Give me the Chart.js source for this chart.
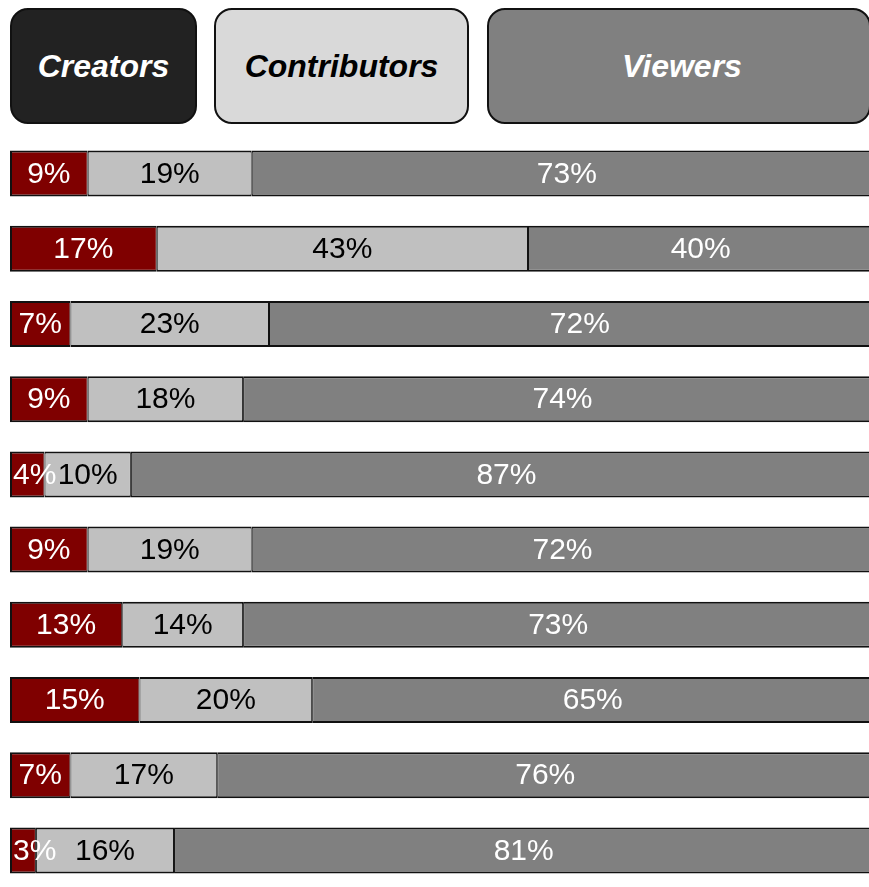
<!DOCTYPE html>
<html>
<head>
<meta charset="utf-8">
<script src="https://cdn.jsdelivr.net/npm/chart.js@4/dist/chart.umd.min.js"></script>
<style>
  html, body {
    margin: 0;
    padding: 0;
    background: #fff;
  }
  body {
    position: relative;
    width: 869px;
    height: 887px;
    overflow: hidden;
    font-family: "Liberation Sans", Arial, sans-serif;
  }
  .key {
    position: absolute;
    top: 8px;
    height: 116px;
    box-sizing: border-box;
    border: 2px solid #111;
    border-radius: 18px;
    display: flex;
    align-items: center;
    justify-content: center;
    font-size: 32px;
    font-weight: bold;
    font-style: italic;
  }
  #keyCreators { left: 10px; width: 187px; background: #222; color: #fff; }
  #keyContributors { left: 214px; width: 255px; background: #d9d9d9; color: #000; }
  #keyViewers { left: 487px; width: 384px; padding-left: 6px; background: #808080; color: #fff; }
  .chart-wrap {
    position: absolute;
    left: 0;
    top: 136px;
    width: 869px;
    height: 752px;
  }
</style>
</head>
<body>
  <div class="key" id="keyCreators">Creators</div>
  <div class="key" id="keyContributors">Contributors</div>
  <div class="key" id="keyViewers">Viewers</div>
  <div class="chart-wrap"><canvas id="shareChart"></canvas></div>

<script>
const rows = ["1", "2", "3", "4", "5", "6", "7", "8", "9", "10"];
const creators = [9, 17, 7, 9, 4, 9, 13, 15, 7, 3];
const contributors = [19, 43, 23, 18, 10, 19, 14, 20, 17, 16];
const viewers = [73, 40, 72, 74, 87, 72, 73, 65, 76, 81];

// percentage text centred on each segment, kept inside the bar's left edge
const segmentLabels = {
  id: "segmentLabels",
  afterDatasetsDraw(chart) {
    const ctx = chart.ctx;
    const left = chart.chartArea.left;
    ctx.save();
    ctx.font = "30px 'Liberation Sans', Arial, sans-serif";
    ctx.textAlign = "center";
    ctx.textBaseline = "middle";
    chart.data.datasets.forEach((ds, i) => {
      const meta = chart.getDatasetMeta(i);
      ctx.fillStyle = ds.labelColor;
      meta.data.forEach((bar, j) => {
        const { x, base, y } = bar.getProps(["x", "base", "y"], true);
        const text = ds.data[j] + "%";
        const half = ctx.measureText(text).width / 2;
        const cx = Math.max((x + base) / 2, left + 3 + half);
        ctx.fillText(text, cx, y + 1);
      });
    });
    ctx.restore();
  },
};

const ctx = document.getElementById("shareChart").getContext("2d");
new Chart(ctx, {
  type: "bar",
  data: {
    labels: rows,
    datasets: [
      {
        label: "Creators",
        data: creators,
        backgroundColor: "#7f0000",
        labelColor: "#fff",
        borderWidth: { top: 2, bottom: 2, left: 2, right: 1 },
      },
      {
        label: "Contributors",
        data: contributors,
        backgroundColor: "#c0c0c0",
        labelColor: "#000",
        borderWidth: { top: 2, bottom: 2, left: 1, right: 1 },
      },
      {
        label: "Viewers",
        data: viewers,
        backgroundColor: "#808080",
        labelColor: "#fff",
        borderWidth: { top: 2, bottom: 2, left: 1, right: 2 },
      },
    ],
  },
  options: {
    indexAxis: "y",
    responsive: true,
    maintainAspectRatio: false,
    animation: false,
    layout: {
      padding: { left: 10, right: 0, top: 0, bottom: 0 },
    },
    datasets: {
      bar: {
        borderColor: "#111",
        borderSkipped: false,
        barPercentage: 0.612,
        categoryPercentage: 1,
      },
    },
    scales: {
      x: { stacked: true, min: 0, max: 99.5, display: false },
      y: { stacked: true, display: false },
    },
    plugins: {
      legend: { display: false },
      tooltip: { enabled: false },
    },
  },
  plugins: [segmentLabels],
});
</script>
</body>
</html>
